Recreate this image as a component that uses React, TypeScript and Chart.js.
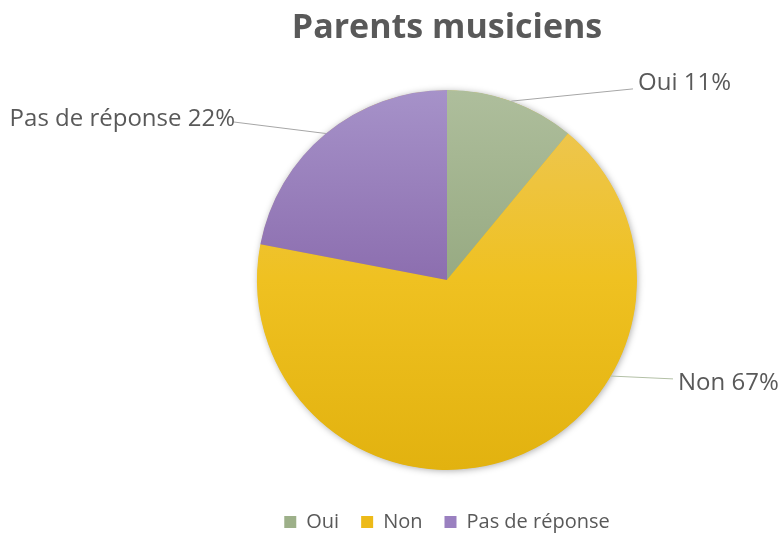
import React, { useEffect, useRef } from "react";
import { Chart, registerables } from "chart.js";

Chart.register(...registerables);

const TITLE = "Parents musiciens";
const CATEGORIES = ["Oui", "Non", "Pas de réponse"];
const VALUES = [11, 67, 22];
const LABEL_TEXTS = ["Oui 11%", "Non 67%", "Pas de réponse 22%"];

// gradient stops (top of pie -> bottom of pie)
const GRADIENTS: string[][] = [
  ["#AEBE9C", "#97AA82", "#8A9E75"],
  ["#EDC75A", "#EFC121", "#E2B20F"],
  ["#A692C9", "#8C6EAF", "#7F60A4"],
];
const LEGEND_COLORS = ["#9DB089", "#EDBA18", "#9A80C0"];
const TEXT_COLOR = "#595959";
const FONT = "'Open Sans', 'Noto Sans', sans-serif";

// leader-line layout: fraction along slice for anchor, elbow & text offsets from pie centre
const LABEL_ANCHOR = [0.5, 0.335, 0.5];
const LABEL_ELBOW = [
  [186, -191],
  [226, 99],
  [-214, -158],
];
const LABEL_TEXT_POS = [
  [191, -197, "left"],
  [231, 103, "left"],
  [-212, -160.5, "right"],
];
const LEADER_COLORS = ["#A6A6A6", "#B3C0A6", "#A6A6A6"];

const pieShadow = {
  id: "pieShadow",
  beforeDatasetsDraw(chart: any) {
    const meta = chart.getDatasetMeta(0);
    const el = meta.data[0];
    if (!el) return;
    const ctx = chart.ctx;
    ctx.save();
    ctx.shadowColor = "rgba(0,0,0,0.35)";
    ctx.shadowBlur = 7;
    ctx.shadowOffsetX = 1;
    ctx.shadowOffsetY = 1;
    ctx.fillStyle = "#E8B818";
    ctx.beginPath();
    ctx.arc(el.x, el.y, el.outerRadius - 0.5, 0, Math.PI * 2);
    ctx.fill();
    ctx.restore();
  },
};

const leaderLabels = {
  id: "leaderLabels",
  afterDatasetsDraw(chart: any) {
    const meta = chart.getDatasetMeta(0);
    const ctx = chart.ctx;
    meta.data.forEach((el: any, i: number) => {
      const a = el.startAngle + (el.endAngle - el.startAngle) * LABEL_ANCHOR[i];
      const r = el.outerRadius;
      const ax = el.x + Math.cos(a) * r;
      const ay = el.y + Math.sin(a) * r;
      const ex = el.x + LABEL_ELBOW[i][0];
      const ey = el.y + LABEL_ELBOW[i][1];
      ctx.save();
      ctx.strokeStyle = LEADER_COLORS[i];
      ctx.lineWidth = 1;
      ctx.beginPath();
      ctx.moveTo(ax, ay);
      ctx.lineTo(ex, ey);
      ctx.stroke();
      ctx.fillStyle = TEXT_COLOR;
      ctx.font = `24px ${FONT}`;
      ctx.textBaseline = "middle";
      ctx.textAlign = LABEL_TEXT_POS[i][2] as CanvasTextAlign;
      ctx.fillText(
        LABEL_TEXTS[i],
        el.x + (LABEL_TEXT_POS[i][0] as number),
        el.y + (LABEL_TEXT_POS[i][1] as number)
      );
      ctx.restore();
    });
  },
};

export default function App() {
  const ref = useRef<HTMLCanvasElement>(null);
  useEffect(() => {
    document.body.style.margin = "0";
    const chart = new Chart(ref.current!, {
      type: "pie",
      data: {
        labels: CATEGORIES,
        datasets: [
          {
            data: VALUES,
            borderWidth: 0,
            backgroundColor: (context: any) => {
              const c = context.chart;
              const area = c.chartArea;
              const i = context.dataIndex;
              if (!area) return LEGEND_COLORS[i];
              const cy = (area.top + area.bottom) / 2;
              const r = Math.min(area.right - area.left, area.bottom - area.top) / 2;
              const g = c.ctx.createLinearGradient(0, cy - r, 0, cy + r);
              const s = GRADIENTS[i];
              g.addColorStop(0, s[0]);
              g.addColorStop(0.5, s[1]);
              g.addColorStop(1, s[2]);
              return g;
            },
          },
        ],
      },
      options: {
        animation: false,
        responsive: false,
        layout: { padding: { left: 257, right: 145, top: 0, bottom: -8 } },
        plugins: {
          tooltip: { enabled: false },
          title: {
            display: true,
            text: TITLE,
            color: TEXT_COLOR,
            font: { family: FONT, size: 34, weight: "bold" },
            padding: { top: 8, bottom: 21 },
          },
          legend: {
            position: "bottom",
            labels: {
              color: TEXT_COLOR,
              font: { family: FONT, size: 20 },
              boxWidth: 12,
              boxHeight: 12,
              padding: 22,
              generateLabels: () =>
                CATEGORIES.map((c, i) => ({
                  text: c,
                  fillStyle: LEGEND_COLORS[i],
                  strokeStyle: LEGEND_COLORS[i],
                  lineWidth: 0,
                  fontColor: TEXT_COLOR,
                  index: i,
                  hidden: false,
                })),
            },
          },
        },
      },
      plugins: [pieShadow, leaderLabels],
    });
    return () => chart.destroy();
  }, []);
  return <canvas ref={ref} width={782} height={534} style={{ display: "block" }} />;
}
